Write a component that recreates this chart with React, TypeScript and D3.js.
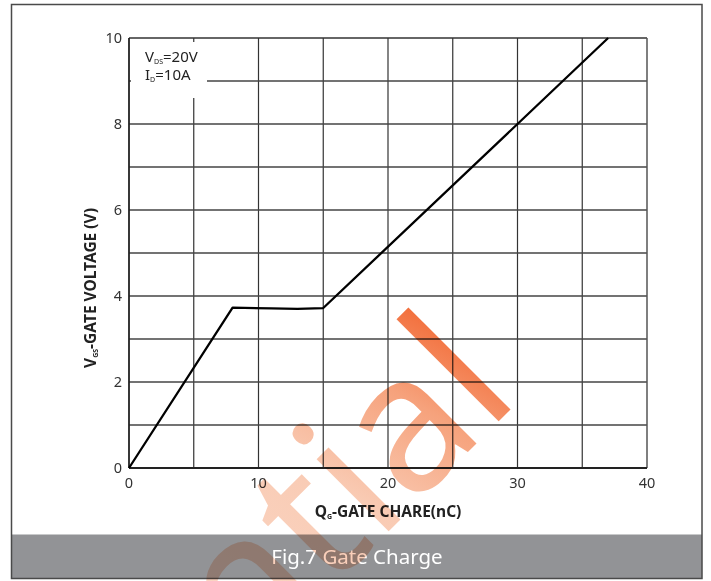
import React from "react";
import * as d3 from "d3";

const qg = [0, 8, 11, 13, 15, 30, 37];
const vgs = [0, 3.73, 3.71, 3.7, 3.72, 8, 10];
const xTicks = [0, 10, 20, 30, 40];
const yTicks = [0, 2, 4, 6, 8, 10];
const xGrid = [5, 10, 15, 20, 25, 30, 35];
const yGrid = [1, 2, 3, 4, 5, 6, 7, 8, 9];

export default function App() {
  const W = 711, H = 581;
  const x = d3.scaleLinear().domain([0, 40]).range([129, 647]);
  const y = d3.scaleLinear().domain([0, 10]).range([468, 38]);
  const line = d3.line<number>().x((d, i) => x(qg[i])).y((d) => y(d));
  const font = "'Noto Sans', sans-serif";
  return (
    <svg width={W} height={H} style={{ position: "absolute", left: 0, top: 0 }}>
      <defs>
        <linearGradient id="wm" gradientUnits="userSpaceOnUse" x1="-430" y1="0" x2="0" y2="-120">
          <stop offset="0" stopColor="#fbdccd" />
          <stop offset="0.55" stopColor="#f9cbb4" />
          <stop offset="0.8" stopColor="#f6a27c" />
          <stop offset="1" stopColor="#f26a36" />
        </linearGradient>
      </defs>
      <rect x={0} y={0} width={W} height={H} fill="#fff" />
      <rect x={11.5} y={534.5} width={690.5} height={44} fill="#929396" />
      <rect x={11.5} y={4.5} width={690.5} height={574} fill="none" stroke="#4a4a4a" strokeWidth={1.5} />
      {/* grid */}
      {xGrid.map((v) => (
        <line key={"gx" + v} x1={x(v)} x2={x(v)} y1={y(0)} y2={y(10)} stroke="#333" strokeWidth={1.2} />
      ))}
      {yGrid.map((v) => (
        <line key={"gy" + v} x1={x(0)} x2={x(40)} y1={y(v)} y2={y(v)} stroke="#444" strokeWidth={1.3} />
      ))}
      {/* legend box */}
      <rect x={131} y={42} width={76} height={56} fill="#fff" />
      <text x={145} y={62} fontFamily={font} fontSize={15} fill="#222">
        V<tspan fontSize={7} dy={2}>DS</tspan><tspan dy={-2}>=20V</tspan>
      </text>
      <text x={145} y={80} fontFamily={font} fontSize={15} fill="#222">
        I<tspan fontSize={7} dy={2}>D</tspan><tspan dy={-2}>=10A</tspan>
      </text>
      {/* frame */}
      <line x1={x(0)} x2={x(40)} y1={y(10)} y2={y(10)} stroke="#333" strokeWidth={1.5} />
      <line x1={x(40)} x2={x(40)} y1={y(0)} y2={y(10)} stroke="#555" strokeWidth={1.5} />
      <line x1={x(0)} x2={x(0)} y1={y(0)} y2={y(10)} stroke="#222" strokeWidth={1.8} />
      <line x1={x(0)} x2={x(40)} y1={y(0)} y2={y(0)} stroke="#222" strokeWidth={1.8} />
      {/* curve */}
      <path d={line(vgs) || ""} fill="none" stroke="#000" strokeWidth={2.3} strokeLinejoin="round" />
      {/* ticks */}
      {xTicks.map((v) => (
        <text key={"tx" + v} x={x(v)} y={488} textAnchor="middle" fontFamily={font} fontSize={14.5} fill="#333">
          {v}
        </text>
      ))}
      {yTicks.map((v) => (
        <text key={"ty" + v} x={122} y={y(v) + 5} textAnchor="end" fontFamily={font} fontSize={14.5} fill="#333">
          {v}
        </text>
      ))}
      {/* axis titles */}
      <text x={388} y={517} textAnchor="middle" fontFamily={font} fontSize={15.5} fontWeight="bold" fill="#222">
        Q<tspan fontSize={7} dy={2}>G</tspan><tspan dy={-2}>-GATE CHARE(nC)</tspan>
      </text>
      <text transform={`translate(96, 288) rotate(-90)`} textAnchor="middle" fontFamily={font} fontSize={15.5} fontWeight="bold" fill="#222">
        V<tspan fontSize={7} dy={2}>GS</tspan><tspan dy={-2}>-GATE VOLTAGE (V)</tspan>
      </text>
      {/* caption */}
      <text x={357} y={564} textAnchor="middle" fontFamily={font} fontSize={20.5} fill="#fff">
        Fig.7 Gate Charge
      </text>
      {/* watermark */}
      <g style={{ mixBlendMode: "multiply" }}>
        <text
          transform="translate(522, 398) rotate(-45)"
          textAnchor="end"
          fontFamily={font}
          fontSize={190}
          fill="url(#wm)"
        >
          Confidential
        </text>
      </g>
    </svg>
  );
}
